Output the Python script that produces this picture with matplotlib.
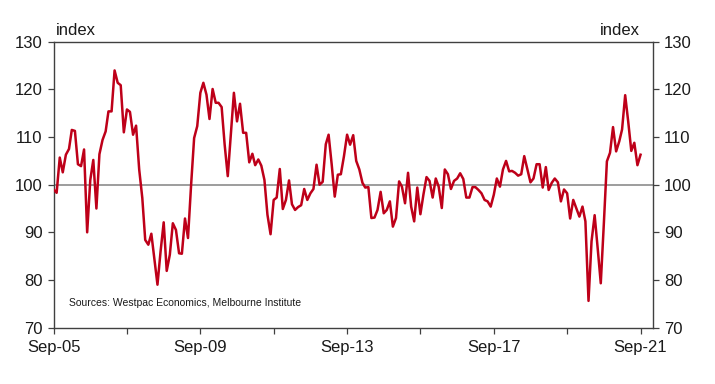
import numpy as np
import pandas as pd
import matplotlib
matplotlib.use('Agg')
import matplotlib.pyplot as plt
import matplotlib.dates as mdates

# Westpac-MI consumer sentiment index, monthly from Sep-05 to Sep-21
start_month = '2005-09-01'
sentiment = [
    99.0, 98.3, 105.7, 102.6, 106.3, 107.5, 111.5, 111.3, 104.3, 103.9,
    107.4, 90.0, 101.0, 105.2, 95.0, 106.4, 109.4, 111.2, 115.4, 115.4,
    124.0, 121.4, 120.9, 111.0, 115.8, 115.3, 110.5, 112.4, 103.2, 97.2,
    88.4, 87.4, 89.7, 84.2, 79.0, 86.0, 92.1, 81.9, 85.3, 91.9,
    90.5, 85.6, 85.5, 92.9, 88.8, 100.0, 109.8, 112.3, 119.3, 121.4,
    118.9, 113.8, 120.1, 117.2, 117.2, 116.3, 108.4, 101.8, 110.5, 119.3,
    113.3, 117.0, 110.9, 110.9, 104.7, 106.5, 104.1, 105.3, 104.0, 101.0,
    93.7, 89.6, 96.8, 97.3, 103.3, 94.9, 96.8, 100.9, 95.9, 94.7,
    95.3, 95.7, 99.1, 96.8, 98.2, 99.1, 104.2, 100.0, 100.6, 108.5,
    110.5, 104.2, 97.5, 102.1, 102.2, 106.0, 110.5, 108.4, 110.4, 105.0,
    103.2, 100.4, 99.4, 99.5, 93.0, 93.1, 94.7, 98.5, 94.0, 94.7,
    96.5, 91.2, 93.0, 100.7, 99.6, 96.1, 102.5, 95.4, 92.3, 99.4,
    93.8, 97.9, 101.6, 100.8, 97.3, 101.3, 99.6, 95.1, 103.2, 102.2,
    99.1, 100.8, 101.3, 102.4, 101.2, 97.3, 97.3, 99.5, 99.5, 98.9,
    98.2, 96.8, 96.5, 95.4, 97.9, 101.3, 99.6, 103.2, 105.0, 102.8,
    102.9, 102.5, 101.9, 102.2, 106.0, 103.2, 100.5, 101.3, 104.3, 104.3,
    99.4, 103.7, 98.9, 100.4, 101.3, 100.5, 96.5, 99.0, 98.2, 92.9,
    96.8, 95.1, 93.3, 95.4, 92.3, 75.6, 88.1, 93.6, 86.7, 79.3,
    92.0, 104.9, 106.7, 112.1, 107.0, 109.1, 111.6, 118.8, 113.3, 107.1,
    108.8, 104.1, 106.3,
]
y_ticks = [70, 80, 90, 100, 110, 120, 130]
label_years = [2005, 2009, 2013, 2017, 2021]
minor_years = [2007, 2011, 2015, 2019]

dates = pd.date_range(start_month, periods=len(sentiment), freq='MS')

plt.rcParams['font.family'] = ['Liberation Sans', 'DejaVu Sans']

fig = plt.figure(figsize=(7.15, 3.84), dpi=100)
ax = fig.add_axes([0.075, 0.147, 0.838, 0.744])

line_col = '#BE0019'
frame_col = '#404040'

ax.axhline(100, color='#8c8c8c', lw=1.2, zorder=1)
ax.plot(dates, sentiment, color=line_col, lw=1.8, zorder=3)

ax.set_ylim(70, 130)
ax.set_xlim(pd.Timestamp('2005-09-01'), pd.Timestamp('2022-01-01'))
ax.set_yticks(y_ticks)

ax.set_xticks([pd.Timestamp(f'{y}-09-01') for y in label_years])
ax.set_xticklabels([f'Sep-{y % 100:02d}' for y in label_years])
ax.set_xticks([pd.Timestamp(f'{y}-09-01') for y in minor_years], minor=True)

ax.tick_params(axis='both', which='both', direction='out', length=4,
               width=0.9, color=frame_col, labelsize=12, labelcolor='#1a1a1a')
ax.tick_params(axis='y', right=True, labelright=True, pad=4)
ax.tick_params(axis='x', pad=5)

for s in ax.spines.values():
    s.set_color(frame_col)
    s.set_linewidth(1.0)

ax.text(0.003, 1.012, 'index', transform=ax.transAxes, fontsize=12,
        ha='left', va='bottom', color='#1a1a1a')
ax.text(0.978, 1.012, 'index', transform=ax.transAxes, fontsize=12,
        ha='right', va='bottom', color='#1a1a1a')
ax.text(0.025, 0.085, 'Sources: Westpac Economics, Melbourne Institute',
        transform=ax.transAxes, fontsize=7.5, ha='left', va='center',
        color='#1a1a1a')

fig.savefig('out.png', dpi=100)
